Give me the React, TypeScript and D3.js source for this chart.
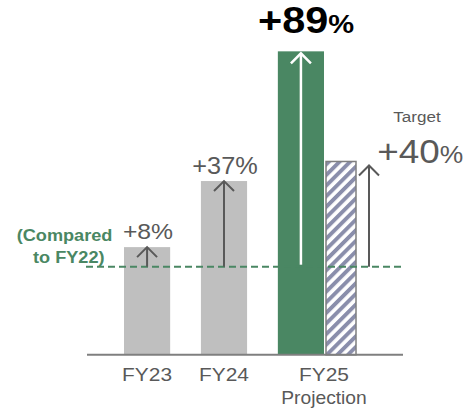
import React from "react";
import * as d3 from "d3";

const categories = ["FY23", "FY24", "FY25"];
const subLabels = ["", "", "Projection"];
// bar heights, index with FY22 = 100
const actualValues = [108, 135, 188];
const targetValue = 143;
const baseIndex = 100;
const growthLabels = ["+8%", "+37%", "+89%"];
const targetLabel = "+40";
const targetTitle = "Target";
const noteLines = ["(Compared", "to FY22)"];

const W = 463;
const H = 412;
const FONT = "'Liberation Sans', Arial, Helvetica, sans-serif";
const GREEN = "#4a8763";
const GRAY_BAR = "#bfbfbf";
const TEXT = "#595959";
const ARROW = "#595959";
const SX = 1.1;

function T({ x, y, anchor = "middle", size, weight = "normal", fill = TEXT, children }: any) {
  return (
    <text
      transform={`translate(${x},${y}) scale(${SX},1)`}
      textAnchor={anchor}
      fontSize={size}
      fontWeight={weight}
      fill={fill}
      fontFamily={FONT}
    >
      {children}
    </text>
  );
}

function Arrow({ x, y1, y2, color, width = 2 }: any) {
  const hw = 10;
  const hh = 10;
  return (
    <g stroke={color} strokeWidth={width} fill="none" strokeLinecap="butt">
      <line x1={x} x2={x} y1={y1} y2={y2} />
      <path d={`M${x - hw},${y2 + hh} L${x},${y2} L${x + hw},${y2 + hh}`} strokeLinejoin="miter" />
    </g>
  );
}

export default function App() {
  const y = d3.scaleLinear().domain([64, 100]).range([354.8, 266.7]);
  const x = d3.scaleBand<string>().domain(categories).range([124, 324]).paddingInner(0.4).paddingOuter(0);
  const bw = x.bandwidth();
  const y0 = y(64);
  const yBase = y(baseIndex);

  const tx = (x("FY25") as number) + bw + 2;
  const tw = bw * 0.65;

  return (
    <svg width={W} height={H} style={{ position: "absolute", left: 0, top: 0 }}>
      <defs>
        <pattern id="hatch" patternUnits="userSpaceOnUse" width={7.5} height={7.5} patternTransform="rotate(45)">
          <rect x={0} y={0} width={7.5} height={7.5} fill="#ffffff" />
          <rect x={0} y={0} width={3.9} height={7.5} fill="#8a8eab" />
        </pattern>
      </defs>

      {/* bars */}
      {categories.map((c, i) => (
        <rect
          key={c}
          x={x(c)}
          y={y(actualValues[i])}
          width={bw}
          height={y0 - y(actualValues[i])}
          fill={i === 2 ? GREEN : GRAY_BAR}
        />
      ))}
      <rect x={tx} y={y(targetValue)} width={tw} height={y0 - y(targetValue)} fill="url(#hatch)" stroke="#7f7f7f" strokeWidth={1.5} />

      {/* baseline axis */}
      <line x1={87} x2={403} y1={y0} y2={y0} stroke="#7f7f7f" strokeWidth={2} />

      {/* FY22 reference dashed line */}
      <line x1={86} x2={403} y1={yBase} y2={yBase} stroke={GREEN} strokeWidth={2} strokeDasharray="7,4" />

      {/* arrows */}
      {categories.map((c, i) => (
        <Arrow
          key={c}
          x={(x(c) as number) + bw / 2}
          y1={i === 2 ? yBase - 2 : yBase}
          y2={i === 2 ? y(actualValues[i]) + 2 : y(actualValues[i])}
          color={i === 2 ? "#ffffff" : ARROW}
          width={i === 2 ? 2.5 : 2}
        />
      ))}
      <Arrow x={tx + tw + 13} y1={yBase} y2={y(targetValue) + 4} color={ARROW} />

      {/* growth labels */}
      <T x={148} y={239} size={22.5}>{growthLabels[0]}</T>
      <T x={225} y={174.3} size={23}>{growthLabels[1]}</T>
      <text transform={`translate(258,33.3) scale(1.12,1)`} fontFamily={FONT} fontWeight="bold" fill="#000">
        <tspan fontSize={37}>{growthLabels[2].replace("%", "")}</tspan>
        <tspan fontSize={26}>%</tspan>
      </text>
      <T x={417} y={121.7} size={15.5}>{targetTitle}</T>
      <text transform={`translate(377.3,163.3) scale(${SX},1)`} fontFamily={FONT} fill={TEXT}>
        <tspan fontSize={33.5}>{targetLabel}</tspan>
        <tspan fontSize={24}>%</tspan>
      </text>

      {/* note */}
      <T x={16.7} y={241} anchor="start" size={16.5} weight="bold" fill={GREEN}>{noteLines[0]}</T>
      <T x={33} y={262.7} anchor="start" size={16.5} weight="bold" fill={GREEN}>{noteLines[1]}</T>

      {/* category labels */}
      {categories.map((c, i) => {
        const cx = i === 2 ? (x(c) as number) + bw : (x(c) as number) + bw / 2;
        return (
          <g key={c}>
            <T x={cx} y={380.5} size={19}>{c}</T>
            {subLabels[i] && <T x={cx} y={404.3} size={17.5}>{subLabels[i]}</T>}
          </g>
        );
      })}
    </svg>
  );
}
